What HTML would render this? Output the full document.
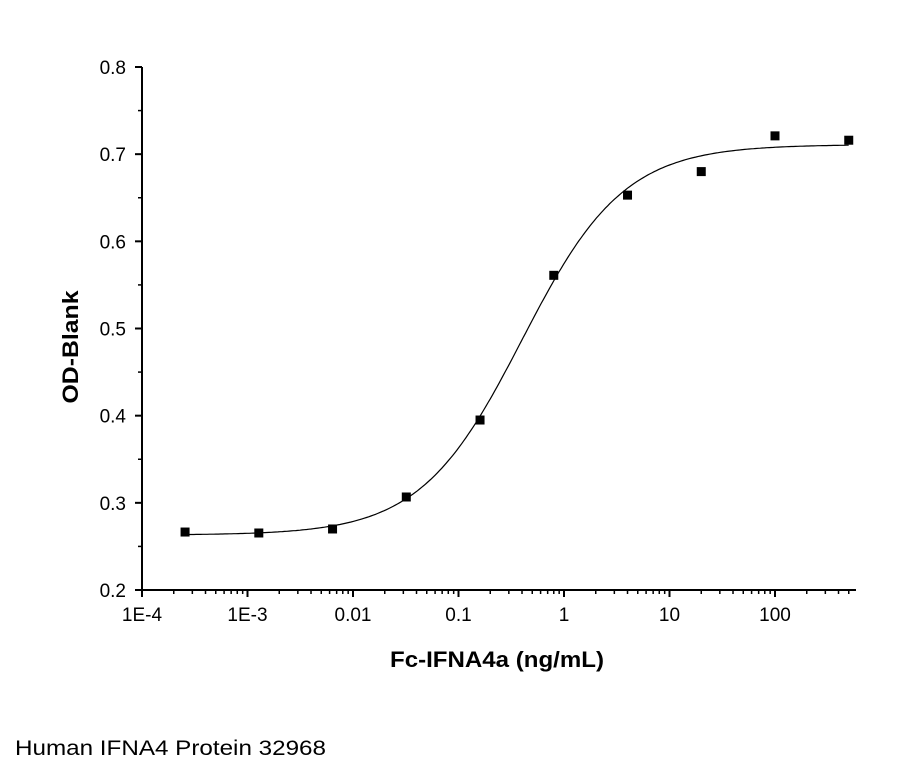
<!DOCTYPE html>
<html><head><meta charset="utf-8"><style>
body{margin:0;background:#fff;width:905px;height:772px;overflow:hidden;font-family:"Liberation Sans",sans-serif}
</style></head><body>
<svg id="chart" width="905" height="772" xmlns="http://www.w3.org/2000/svg" font-family="Liberation Sans, sans-serif">
<g id="axes"></g>
<g id="marks"></g>
<text transform="translate(78,347) rotate(-90)" text-anchor="middle" font-size="22" font-weight="bold" textLength="113" lengthAdjust="spacingAndGlyphs">OD-Blank</text>
<text x="497" y="667" text-anchor="middle" font-size="22" font-weight="bold" textLength="214" lengthAdjust="spacingAndGlyphs">Fc-IFNA4a (ng/mL)</text>
<text x="15" y="755" font-size="21" textLength="311" lengthAdjust="spacingAndGlyphs">Human IFNA4 Protein 32968</text>
</svg>
<script>
const concentrations=[0.000256,0.00128,0.0064,0.032,0.16,0.8,4,20,100,500];
const odValues=[0.2665,0.2654,0.270,0.3067,0.395,0.561,0.653,0.680,0.721,0.716];
const fitParams={bottom:0.263,top:0.711,ec50:0.4,hill:0.9};
const xTickLabels=["1E-4","1E-3","0.01","0.1","1","10","100"];
const yTickLabels=["0.2","0.3","0.4","0.5","0.6","0.7","0.8"];

const NS="http://www.w3.org/2000/svg";
const X0=142,DEC=105.5,XMAX=856,Y0=590,YTOP=67;
const xs=v=>X0+(Math.log10(v)+4)*DEC;
const ys=v=>Y0-(v-0.2)/0.6*(Y0-YTOP);
function mk(tag,attrs,parent){const e=document.createElementNS(NS,tag);for(const k in attrs)e.setAttribute(k,attrs[k]);parent.appendChild(e);return e;}
const axes=document.getElementById('axes'),marks=document.getElementById('marks');
let e=mk('line',{x1:X0,y1:Y0,x2:XMAX,y2:Y0,stroke:'#000','stroke-width':2},axes);


e=mk('line',{x1:X0,y1:Y0+1,x2:X0,y2:YTOP,stroke:'#000','stroke-width':2},axes);


xTickLabels.forEach((lab,i)=>{
  const x=X0+i*DEC;
  let t=mk('line',{x1:x,y1:Y0,x2:x,y2:Y0+7,stroke:'#000','stroke-width':2},axes);
  
  
  let l=mk('text',{x:x,y:Y0+31,'text-anchor':'middle','font-size':19},axes);l.textContent=lab;
  
  
  for(let m=2;m<=9;m++){const mx=x+Math.log10(m)*DEC;if(mx>XMAX)break;
    let mt=mk('line',{x1:mx,y1:Y0,x2:mx,y2:Y0+4,stroke:'#000','stroke-width':1.5},axes);
    
    }
});
yTickLabels.forEach((lab,i)=>{
  const y=ys(parseFloat(lab));
  let t=mk('line',{x1:X0-7,y1:y,x2:X0,y2:y,stroke:'#000','stroke-width':2},axes);
  
  
  let l=mk('text',{x:X0-16,y:y+7,'text-anchor':'end','font-size':19},axes);l.textContent=lab;
  
  
  if(i<yTickLabels.length-1){const my=ys(parseFloat(lab)+0.05);
    let mt=mk('line',{x1:X0-4,y1:my,x2:X0,y2:my,stroke:'#000','stroke-width':1.5},axes);
    
    }
});
const f=x=>fitParams.bottom+(fitParams.top-fitParams.bottom)/(1+Math.pow(fitParams.ec50/x,fitParams.hill));
let d='';
const lmin=Math.log10(concentrations[0]),lmax=Math.log10(concentrations[concentrations.length-1]);
for(let i=0;i<=300;i++){const lx=lmin+(lmax-lmin)*i/300,x=Math.pow(10,lx);d+=(i?'L':'M')+xs(x).toFixed(1)+','+ys(f(x)).toFixed(1);}
e=mk('path',{d:d,fill:'none',stroke:'#000','stroke-width':1.2},marks);


concentrations.forEach((c,i)=>{
  let r=mk('rect',{x:xs(c)-4.5,y:ys(odValues[i])-4.5,width:9,height:9,fill:'#000'},marks);
  
  
});
</script>
</body></html>
